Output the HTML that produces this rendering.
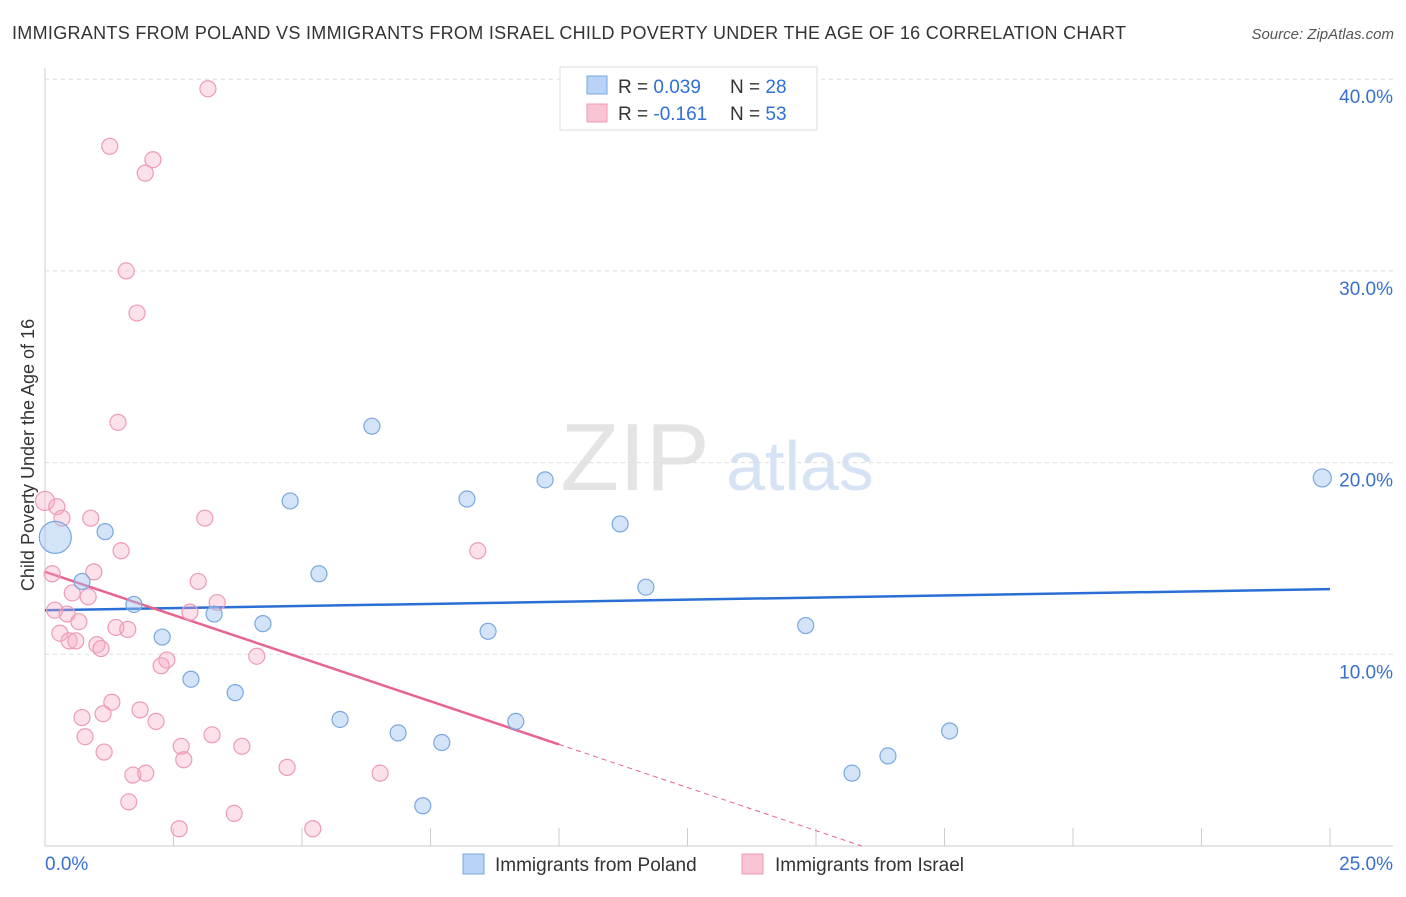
<!DOCTYPE html>
<html><head><meta charset="utf-8"><style>
body{margin:0;background:#fff;font-family:"Liberation Sans",sans-serif;}
svg text{font-family:"Liberation Sans",sans-serif;}
</style></head><body>
<svg id="chart" width="1406" height="892" viewBox="0 0 1406 892">
<text x="12" y="39" font-size="18" fill="#333" textLength="1114" lengthAdjust="spacing">IMMIGRANTS FROM POLAND VS IMMIGRANTS FROM ISRAEL CHILD POVERTY UNDER THE AGE OF 16 CORRELATION CHART</text>
<text x="1394" y="39" font-size="15" fill="#555" text-anchor="end" font-style="italic">Source: ZipAtlas.com</text>
<text x="635" y="490" font-size="96" fill="#e4e4e4" font-family="Liberation Serif" text-anchor="middle">ZIP</text>
<text x="800" y="490" font-size="70" fill="#d6e3f5" text-anchor="middle">atlas</text>
<text transform="translate(34,455) rotate(-90)" font-size="18" fill="#333" text-anchor="middle">Child Poverty Under the Age of 16</text>
<g id="grid"></g><g id="trends"></g><g id="marks"></g>
<g>
<rect x="560" y="67" width="257" height="63" fill="#fff" stroke="#ddd"/>
<rect x="587" y="76" width="20" height="18" fill="#b8d3f6" stroke="#7aa7e0"/>
<rect x="587" y="104" width="20" height="18" fill="#f9c4d4" stroke="#ee9ab5"/>
<text x="618" y="93" font-size="19" fill="#333">R = <tspan fill="#2f6fd6">0.039</tspan></text>
<text x="730" y="93" font-size="19" fill="#333">N = <tspan fill="#2f6fd6">28</tspan></text>
<text x="618" y="120" font-size="19" fill="#333">R = <tspan fill="#2f6fd6">-0.161</tspan></text>
<text x="730" y="120" font-size="19" fill="#333">N = <tspan fill="#2f6fd6">53</tspan></text>
</g>
<g>
<rect x="463" y="854" width="21" height="20" fill="#b8d3f6" stroke="#7aa7e0"/>
<text x="495" y="871" font-size="19" fill="#333">Immigrants from Poland</text>
<rect x="742" y="854" width="21" height="20" fill="#f9c4d4" stroke="#ee9ab5"/>
<text x="775" y="871" font-size="19" fill="#333">Immigrants from Israel</text>
</g>
</svg>
<script>
const xTicks=[0,2.5,5,7.5,10,12.5,15,17.5,20,22.5,25];
const yTicks=[10,20,30,40];
const yTickLabels=["10.0%","20.0%","30.0%","40.0%"];
const xTickLabels=["0.0%","25.0%"];
const polandX=[0.2,13.0,6.36,1.17,4.77,8.21,9.73,11.19,5.33,0.72,11.69,1.73,3.29,4.24,8.62,14.8,2.28,2.84,3.70,5.74,9.16,6.87,7.72,17.6,16.4,15.7,7.35,24.85];
const polandY=[16.1,39.0,21.9,16.4,18.0,18.1,19.1,16.8,14.2,13.8,13.5,12.6,12.1,11.6,11.2,11.5,10.9,8.7,8.0,6.6,6.5,5.9,5.4,6.0,4.7,3.8,2.1,19.2];
const israelX=[3.17,1.26,2.10,1.95,1.58,1.79,1.42,0,0.23,0.33,0.89,3.11,1.48,8.42,0.14,0.95,2.98,0.53,0.84,3.35,0.19,0.43,2.82,0.66,1.38,1.61,0.29,0.47,0.60,1.01,1.09,4.12,2.37,2.26,1.30,1.85,0.72,1.13,2.16,0.78,3.25,2.65,3.83,1.15,2.70,4.71,6.52,1.71,1.96,1.63,3.68,2.61,5.21];
const israelY=[39.5,36.5,35.8,35.1,30.0,27.8,22.1,18.0,17.7,17.1,17.1,17.1,15.4,15.4,14.2,14.3,13.8,13.2,13.0,12.7,12.3,12.1,12.2,11.7,11.4,11.3,11.1,10.7,10.7,10.5,10.3,9.9,9.7,9.4,7.5,7.1,6.7,6.9,6.5,5.7,5.8,5.2,5.2,4.9,4.5,4.1,3.8,3.7,3.8,2.3,1.7,0.9,0.9];
const polandSize=[16,8,8,8,8,8,8,8,8,8,8,8,8,8,8,8,8,8,8,8,8,8,8,8,8,8,8,9];
const polandTrend=[12.3,0.044];
const israelTrend=[14.3,-0.9];
const sx=v=>45+v*51.4, sy=v=>846-v*19.17;
const NS="http://www.w3.org/2000/svg";
function mk(p,t,a){const e=document.createElementNS(NS,t);for(const k in a)e.setAttribute(k,a[k]);p.appendChild(e);return e;}
const grid=document.getElementById('grid');
yTicks.forEach((t,i)=>{const l=mk(grid,'line',{x1:45,x2:1393,y1:sy(t),y2:sy(t),stroke:'#ddd','stroke-dasharray':'4,4'});


const tx=mk(grid,'text',{x:1393,y:sy(t)+24,'font-size':19,fill:'#3a6fd0','text-anchor':'end'});tx.textContent=yTickLabels[i];

});
const ax=mk(grid,'line',{x1:45,x2:45,y1:68,y2:846,stroke:'#ccc'});


const bx=mk(grid,'line',{x1:45,x2:1393,y1:846,y2:846,stroke:'#ccc'});


xTicks.forEach(t=>{const l=mk(grid,'line',{x1:sx(t),x2:sx(t),y1:828,y2:846,stroke:'#ccc'});

});
[[0,'start',45],[25,'end',1393]].forEach((d,i)=>{const t=mk(grid,'text',{x:d[2],y:870,'font-size':19,fill:'#3a6fd0','text-anchor':d[1]});t.textContent=xTickLabels[i];

});
const marks=document.getElementById('marks');
israelX.forEach((x,i)=>{const c=mk(marks,'circle',{cx:sx(x),cy:sy(israelY[i]),r:i==7?9.5:8,fill:'rgba(246,170,195,0.35)',stroke:'#ee9ab5','stroke-width':1.2});

});
polandX.forEach((x,i)=>{const c=mk(marks,'circle',{cx:sx(x),cy:sy(polandY[i]),r:polandSize[i],fill:'rgba(160,195,240,0.45)',stroke:'#7aa7e0','stroke-width':1.2});

});
const tr=document.getElementById('trends');
const bl=mk(tr,'line',{x1:sx(0),y1:sy(polandTrend[0]),x2:sx(25),y2:sy(polandTrend[0]+25*polandTrend[1]),stroke:'#2b6fd6','stroke-width':2.5});


const pl=mk(tr,'line',{x1:sx(0),y1:sy(israelTrend[0]),x2:sx(10),y2:sy(israelTrend[0]+10*israelTrend[1]),stroke:'#e8638f','stroke-width':2.5});


const xe=-israelTrend[0]/israelTrend[1];
const pd=mk(tr,'line',{x1:sx(10),y1:sy(israelTrend[0]+10*israelTrend[1]),x2:sx(xe),y2:sy(0),stroke:'#e8638f','stroke-width':1,'stroke-dasharray':'5,4'});


</script>
</body></html>
